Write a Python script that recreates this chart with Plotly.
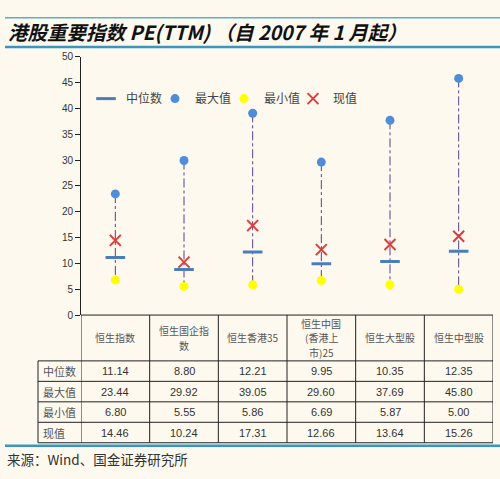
import plotly.graph_objects as go

W, H = 500, 479

# data
categories = ['恒生指数', '恒生国企指数', '恒生香港35', '恒生中国(香港上市)25', '恒生大型股', '恒生中型股']
header_labels = ['恒生指数', '恒生国企指<br>数', '恒生香港35', '恒生中国<br>(香港上<br>市)25', '恒生大型股', '恒生中型股']
median_vals = [11.14, 8.80, 12.21, 9.95, 10.35, 12.35]
max_vals = [23.44, 29.92, 39.05, 29.60, 37.69, 45.80]
min_vals = [6.80, 5.55, 5.86, 6.69, 5.87, 5.00]
current_vals = [14.46, 10.24, 17.31, 12.66, 13.64, 15.26]
row_names = ['中位数', '最大值', '最小值', '现值']
y_ticks = list(range(0, 51, 5))

bg = '#fdf9ef'
font_cjk = 'Noto Sans CJK SC, Noto Sans, sans-serif'


def px(x):
    return x / W


def py(y):
    return 1 - y / H


fig = go.Figure()

# dash-dot range lines (max -> min)
lx, ly = [], []
for c, hi, lo in zip(categories, max_vals, min_vals):
    lx += [c, c, None]
    ly += [hi, lo, None]
fig.add_trace(go.Scatter(x=lx, y=ly, mode='lines', showlegend=False, hoverinfo='skip',
                         line=dict(color='#5a3f91', width=1, dash='dashdot')))

fig.add_trace(go.Scatter(x=categories, y=median_vals, mode='markers', name='中位数',
                         marker=dict(symbol='line-ew', size=14, line=dict(color='#4a7ebb', width=3))))
fig.add_trace(go.Scatter(x=categories, y=max_vals, mode='markers', name='最大值',
                         marker=dict(symbol='circle', size=9, color='#4f8ddb')))
fig.add_trace(go.Scatter(x=categories, y=min_vals, mode='markers', name='最小值',
                         marker=dict(symbol='circle', size=9, color='#ffff00')))
fig.add_trace(go.Scatter(x=categories, y=current_vals, mode='markers', name='现值',
                         marker=dict(symbol='x-thin', size=11, line=dict(color='#e03c3c', width=2))))

shapes = []
# title rules
shapes.append(dict(type='line', xref='paper', yref='paper', x0=px(5), x1=1, y0=py(12), y1=py(12),
                   line=dict(color='#5aaed0', width=1.5)))
shapes.append(dict(type='line', xref='paper', yref='paper', x0=px(5), x1=1, y0=py(42), y1=py(42),
                   line=dict(color='#3a96bd', width=2.5)))
# source rule
shapes.append(dict(type='line', xref='paper', yref='paper', x0=px(5), x1=1, y0=py(451), y1=py(451),
                   line=dict(color='#3a96bd', width=2.5)))

# table grid
row_edges = [317, 364, 385, 406, 427, 448]
tbl = dict(color='#222222', width=1)
shapes.append(dict(type='line', xref='paper', yref='paper', x0=px(81), x1=px(493),
                   y0=py(row_edges[0]), y1=py(row_edges[0]), line=tbl))
for r in row_edges[1:]:
    shapes.append(dict(type='line', xref='paper', yref='paper', x0=px(38), x1=px(493),
                       y0=py(r), y1=py(r), line=tbl))
shapes.append(dict(type='line', xref='paper', yref='paper', x0=px(38), x1=px(38),
                   y0=py(row_edges[1]), y1=py(row_edges[-1]), line=tbl))
for i in range(len(categories) + 1):
    shapes.append(dict(type='line', xref='x', yref='paper', x0=i - 0.5, x1=i - 0.5,
                       y0=py(row_edges[0]), y1=py(row_edges[-1]), line=tbl))

annotations = []
annotations.append(dict(text='<b><i>港股重要指数 PE(TTM) （自 2007 年 1 月起）</i></b>',
                        xref='paper', yref='paper', x=px(6), y=py(26), xanchor='left', yanchor='middle',
                        showarrow=False, font=dict(size=19.5, color='#111111', family=font_cjk)))
annotations.append(dict(text='来源：Wind、国金证券研究所', xref='paper', yref='paper',
                        x=px(5), y=py(465), xanchor='left', yanchor='middle', showarrow=False,
                        font=dict(size=13.5, color='#333333', family=font_cjk)))

# header cells: one annotation per line so the lines stay tight
head_mid = (row_edges[0] + row_edges[1]) / 2
line_gap = 14.6
for i, h in enumerate(header_labels):
    parts = h.split('<br>')
    for j, part in enumerate(parts):
        yy = head_mid + (j - (len(parts) - 1) / 2) * line_gap
        annotations.append(dict(text=part, xref='x', yref='paper', x=i, y=py(yy),
                                xanchor='center', yanchor='middle', showarrow=False,
                                font=dict(size=10, color='#555555', family=font_cjk)))

rows = [median_vals, max_vals, min_vals, current_vals]
for k, (name, vals) in enumerate(zip(row_names, rows)):
    yc = py((row_edges[k + 1] + row_edges[k + 2]) / 2)
    annotations.append(dict(text=name, xref='paper', yref='paper', x=px(41), y=yc,
                            xanchor='left', yanchor='middle',
                            showarrow=False, font=dict(size=11, color='#555555', family=font_cjk)))
    for i, v in enumerate(vals):
        annotations.append(dict(text=f'{v:.2f}', xref='x', yref='paper', x=i, y=yc,
                                xanchor='center', yanchor='middle', showarrow=False,
                                font=dict(size=11, color='#333333', family='Liberation Sans, Arial')))

fig.update_layout(
    width=W, height=H,
    margin=dict(l=0, r=0, t=0, b=0),
    paper_bgcolor=bg, plot_bgcolor=bg,
    font=dict(family=font_cjk, color='#333333'),
    shapes=shapes,
    annotations=annotations,
    showlegend=True,
    legend=dict(orientation='h', x=px(86), y=py(95), xanchor='left', yanchor='middle',
                bgcolor='rgba(0,0,0,0)', font=dict(size=12, color='#444444'),
                itemwidth=30, entrywidth=24, tracegroupgap=0),
    xaxis=dict(domain=[px(81), px(493)], range=[-0.5, len(categories) - 0.5], type='category',
               showticklabels=False, showgrid=False, zeroline=False, showline=False, ticks=''),
    yaxis=dict(domain=[py(317), py(52)], range=[0, 50], tickvals=y_ticks, showgrid=False,
               zeroline=False, showline=True, linecolor='#222222', linewidth=1,
               ticks='outside', ticklen=5, tickcolor='#222222',
               tickfont=dict(size=10, color='#333333', family='Liberation Sans, Arial')),
)

fig.write_html('out.html', config={'displayModeBar': False},
               post_script="document.body.style.margin='0';document.body.style.background='%s';" % bg)
